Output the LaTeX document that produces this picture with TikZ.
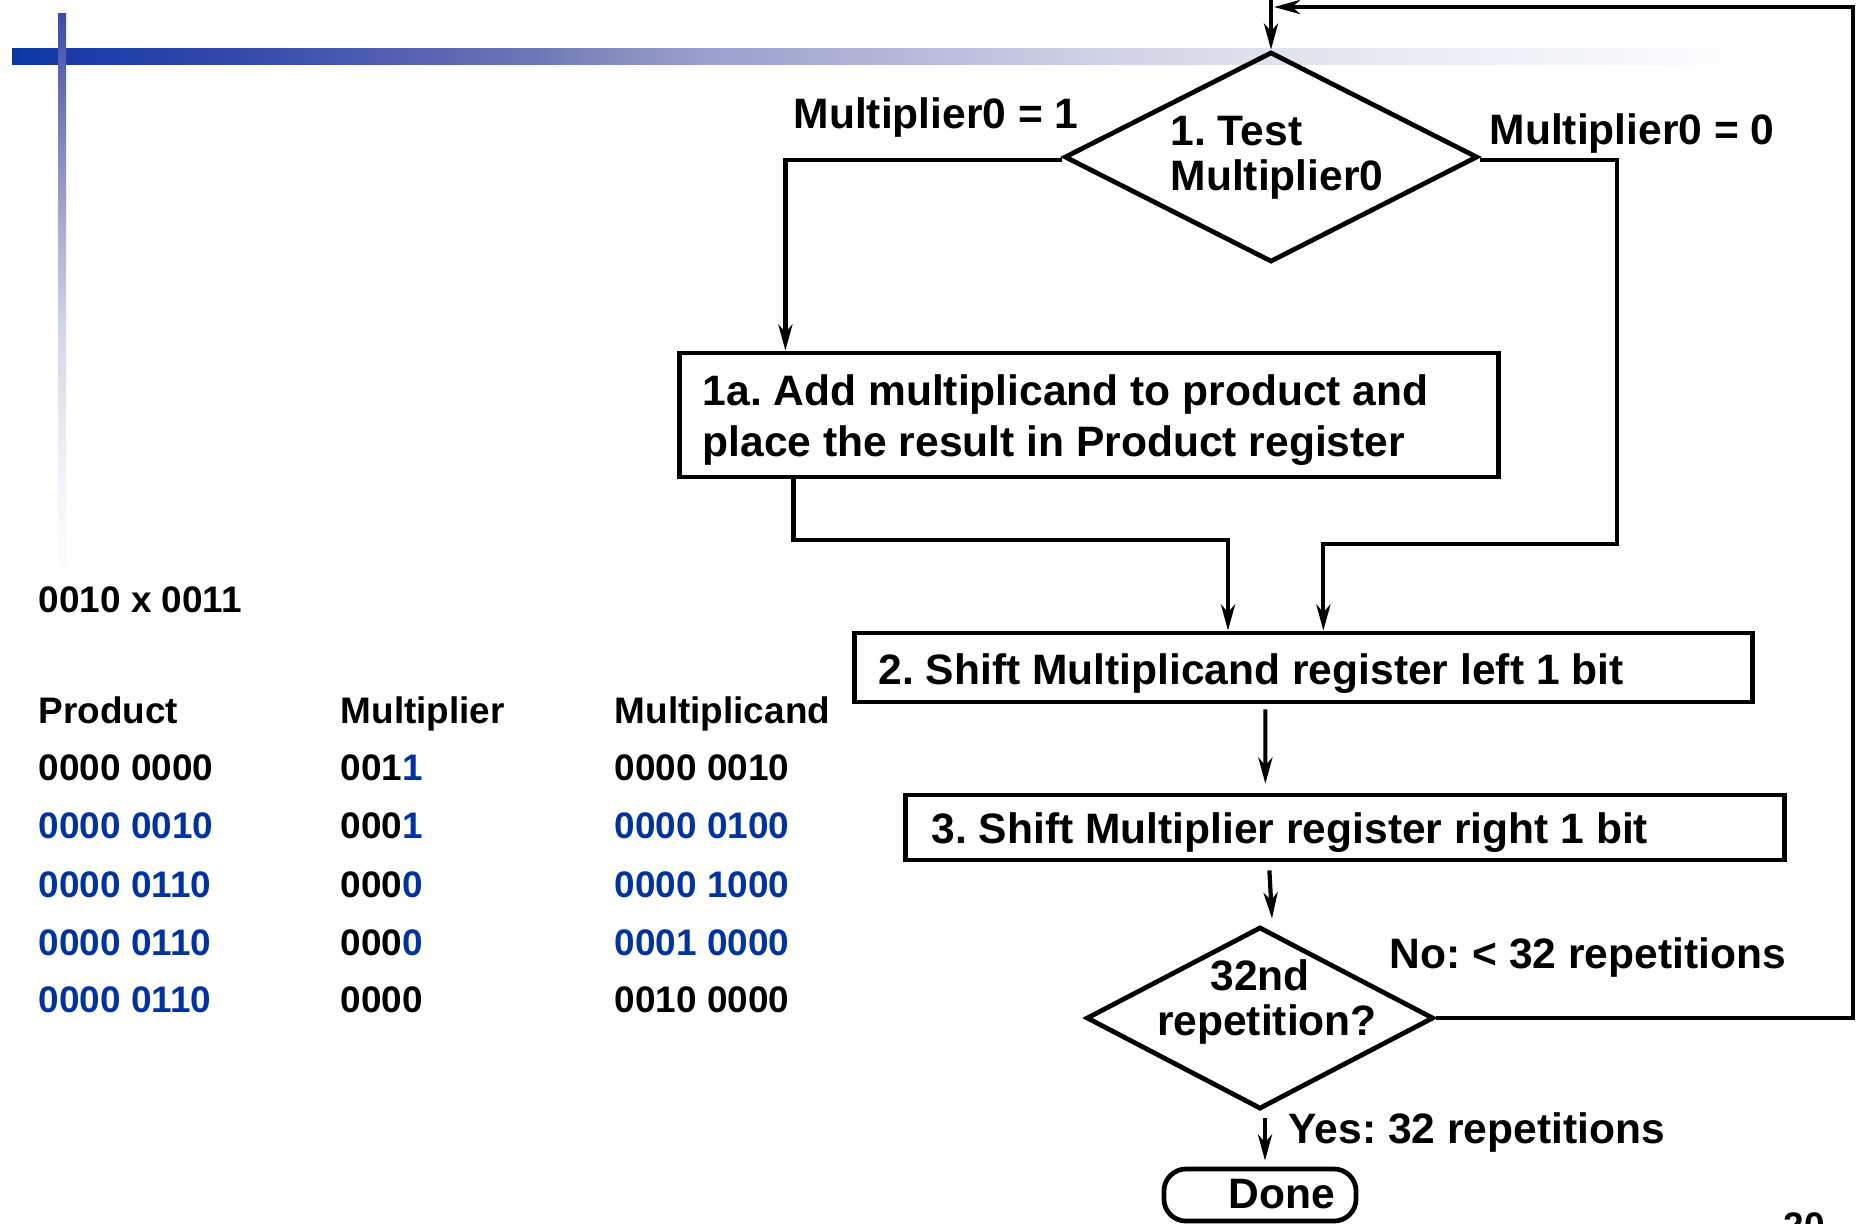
\documentclass[tikz,border=0pt]{standalone}
\usepackage{fontspec}
\setmainfont{Liberation Sans}
\usetikzlibrary{shapes.geometric,arrows.meta,calc}

\definecolor{regblue}{RGB}{0,51,160}
% colour stops of the title bar (left to right)
\definecolor{hb0}{RGB}{8,56,165}
\definecolor{hb1}{RGB}{30,62,168}
\definecolor{hb2}{RGB}{48,72,168}
\definecolor{hb3}{RGB}{74,92,176}
\definecolor{hb4}{RGB}{94,102,178}
\definecolor{hb5}{RGB}{110,120,184}
\definecolor{hb6}{RGB}{136,144,192}
\definecolor{hb7}{RGB}{154,158,204}
\definecolor{hb8}{RGB}{208,210,230}
\definecolor{hb9}{RGB}{228,230,239}
\definecolor{hb10}{RGB}{242,243,248}
\definecolor{hb11}{RGB}{255,255,255}
% colour stops of the side bar (top to bottom)
\definecolor{vb0}{RGB}{58,74,168}
\definecolor{vb1}{RGB}{106,116,184}
\definecolor{vb2}{RGB}{160,165,207}
\definecolor{vb3}{RGB}{212,214,232}
\definecolor{vb4}{RGB}{240,240,247}
\definecolor{vb5}{RGB}{255,255,255}

\begin{document}
\frenchspacing
\begin{tikzpicture}[x=0.01cm, y=-0.01cm,
  txt/.style={inner sep=0pt, font=\bfseries\fontsize{12.1}{14}\selectfont},
  tbl/.style={inner sep=0pt, anchor=base west, font=\bfseries\fontsize{10.5}{12}\selectfont},
  box/.style={draw, line width=1.35pt, rectangle, inner sep=0pt},
  decision/.style={draw, line width=1.35pt, diamond, inner sep=0pt},
  flow/.style={line width=1.2pt, -{Stealth[length=7.4pt,width=4pt,inset=2.2pt]}},
]
\useasboundingbox (0,0) rectangle (1857,1223);
\clip (0,0) rectangle (1857,1223);
\fill[white] (0,0) rectangle (1857,1223);

% slide decoration: horizontal title bar and vertical side bar
\foreach \xa/\ca/\xb/\cb in {12/hb0/89/hb1, 89/hb1/223/hb2, 223/hb2/357/hb3,
    357/hb3/446/hb4, 446/hb4/536/hb5, 536/hb5/625/hb6, 625/hb6/700/hb7,
    700/hb7/1100/hb8, 1100/hb8/1320/hb9, 1320/hb9/1540/hb10, 1540/hb10/1765/hb11}
  \shade[left color=\ca, right color=\cb] (\xa,48) rectangle (\xb+0.6,64);
\foreach \ya/\ca/\yb/\cb in {13/vb0/100/vb1, 100/vb1/210/vb2, 210/vb2/330/vb3,
    330/vb3/460/vb4, 460/vb4/580/vb5}
  \shade[top color=\ca, bottom color=\cb] (58,\ya) rectangle (66,\yb+0.6);

% ---------------- flow chart ----------------
\node[decision, minimum width=4.13cm, minimum height=2.10cm] (test) at (1271,157) {};
\node[txt, anchor=base west] (testA) at (1170,145) {1. Test};
\node[txt, anchor=base west] (testB) at (1170,190) {Multiplier0};
\node[txt, anchor=base west] (lblOne) at (793,128) {Multiplier0 = 1};
\node[txt, anchor=base west] (lblZero) at (1489,144) {Multiplier0 = 0};

\node[box, minimum width=8.18cm, minimum height=1.24cm] (add) at (1089,415) {};
\node[txt, anchor=base west] (addA) at (702,405) {1a. Add multiplicand to product and};
\node[txt, anchor=base west] (addB) at (702,456) {place the result in Product register};

\node[box, minimum width=8.97cm, minimum height=0.69cm] (shl) at (1303.5,667.5) {};
\node[txt, anchor=base west] (shlT) at (878,684) {2. Shift Multiplicand register left 1 bit};

\node[box, minimum width=8.78cm, minimum height=0.65cm] (shr) at (1345,827.5) {};
\node[txt, anchor=base west] (shrT) at (931,843) {3. Shift Multiplier register right 1 bit};

\node[decision, minimum width=3.47cm, minimum height=1.82cm] (rep) at (1260,1018) {};
\node[txt, anchor=base] (repA) at (1260,990) {32nd};
\node[txt, anchor=base] (repB) at (1267,1035) {repetition?};
\node[txt, anchor=base west] (lblNo) at (1389,968) {No: < 32 repetitions};
\node[txt, anchor=base west] (lblYes) at (1288,1143) {Yes: 32 repetitions};

\node[draw, line width=1.35pt, rounded corners=0.22cm, inner sep=0pt,
      minimum width=1.92cm, minimum height=0.52cm] (done) at (1260,1195) {};
\node[txt, anchor=base west] (doneT) at (1228,1208) {Done};

\node[tbl] (pageno) at (1783,1238) {20};

% routing points
\coordinate (entry) at (1271,-20);
\coordinate (rbend) at (1617,544);
\coordinate (lbend) at (1228,540);
\coordinate (loopR) at (1853,1018);
\coordinate (loopT) at (1853,7);

% connectors
\draw[flow] (entry) -- (test.north);
\draw[flow] ($(test.west)+(0,3)$) -| ($(add.north west)+(108,0)$);
\draw[flow] ($(test.east)+(0,3)$) -| (rbend) -| ($(shl.north west)+(471,0)$);
\draw[flow] ($(add.south west)+(116,0)$) |- (lbend) -- (lbend |- shl.north);
\draw[flow] ($(shl.south west)+(413,5)$) -- ($(shr.north west)+(362,-9)$);
\draw[flow] ($(shr.south west)+(366,8)$) -- ($(rep.north)+(12,-6)$);
\draw[flow] ($(rep.south)+(5,7)$) -- ($(done.north)+(5,-6)$);
\draw[flow] (rep.east) -- (loopR) -- (loopT) -- ($(test.north |- loopT)+(3,0)$);

% ---------------- worked example ----------------
\node[tbl] (task) at (38,612) {0010 x 0011};

\node[tbl] (hP) at (38,723) {Product};
\node[tbl] (hM) at (340,723) {Multiplier};
\node[tbl] (hC) at (614,723) {Multiplicand};

\node[tbl] (p1) at (38,780) {0000 0000};
\node[tbl] (m1) at (340,780) {001\textcolor{regblue}{1}};
\node[tbl] (c1) at (614,780) {0000 0010};

\node[tbl, text=regblue] (p2) at (38,838) {0000 0010};
\node[tbl] (m2) at (340,838) {000\textcolor{regblue}{1}};
\node[tbl, text=regblue] (c2) at (614,838) {0000 0100};

\node[tbl, text=regblue] (p3) at (38,897) {0000 0110};
\node[tbl] (m3) at (340,897) {000\textcolor{regblue}{0}};
\node[tbl, text=regblue] (c3) at (614,897) {0000 1000};

\node[tbl, text=regblue] (p4) at (38,955) {0000 0110};
\node[tbl] (m4) at (340,955) {000\textcolor{regblue}{0}};
\node[tbl, text=regblue] (c4) at (614,955) {0001 0000};

\node[tbl, text=regblue] (p5) at (38,1012) {0000 0110};
\node[tbl] (m5) at (340,1012) {0000};
\node[tbl] (c5) at (614,1012) {0010 0000};
\end{tikzpicture}
\end{document}
